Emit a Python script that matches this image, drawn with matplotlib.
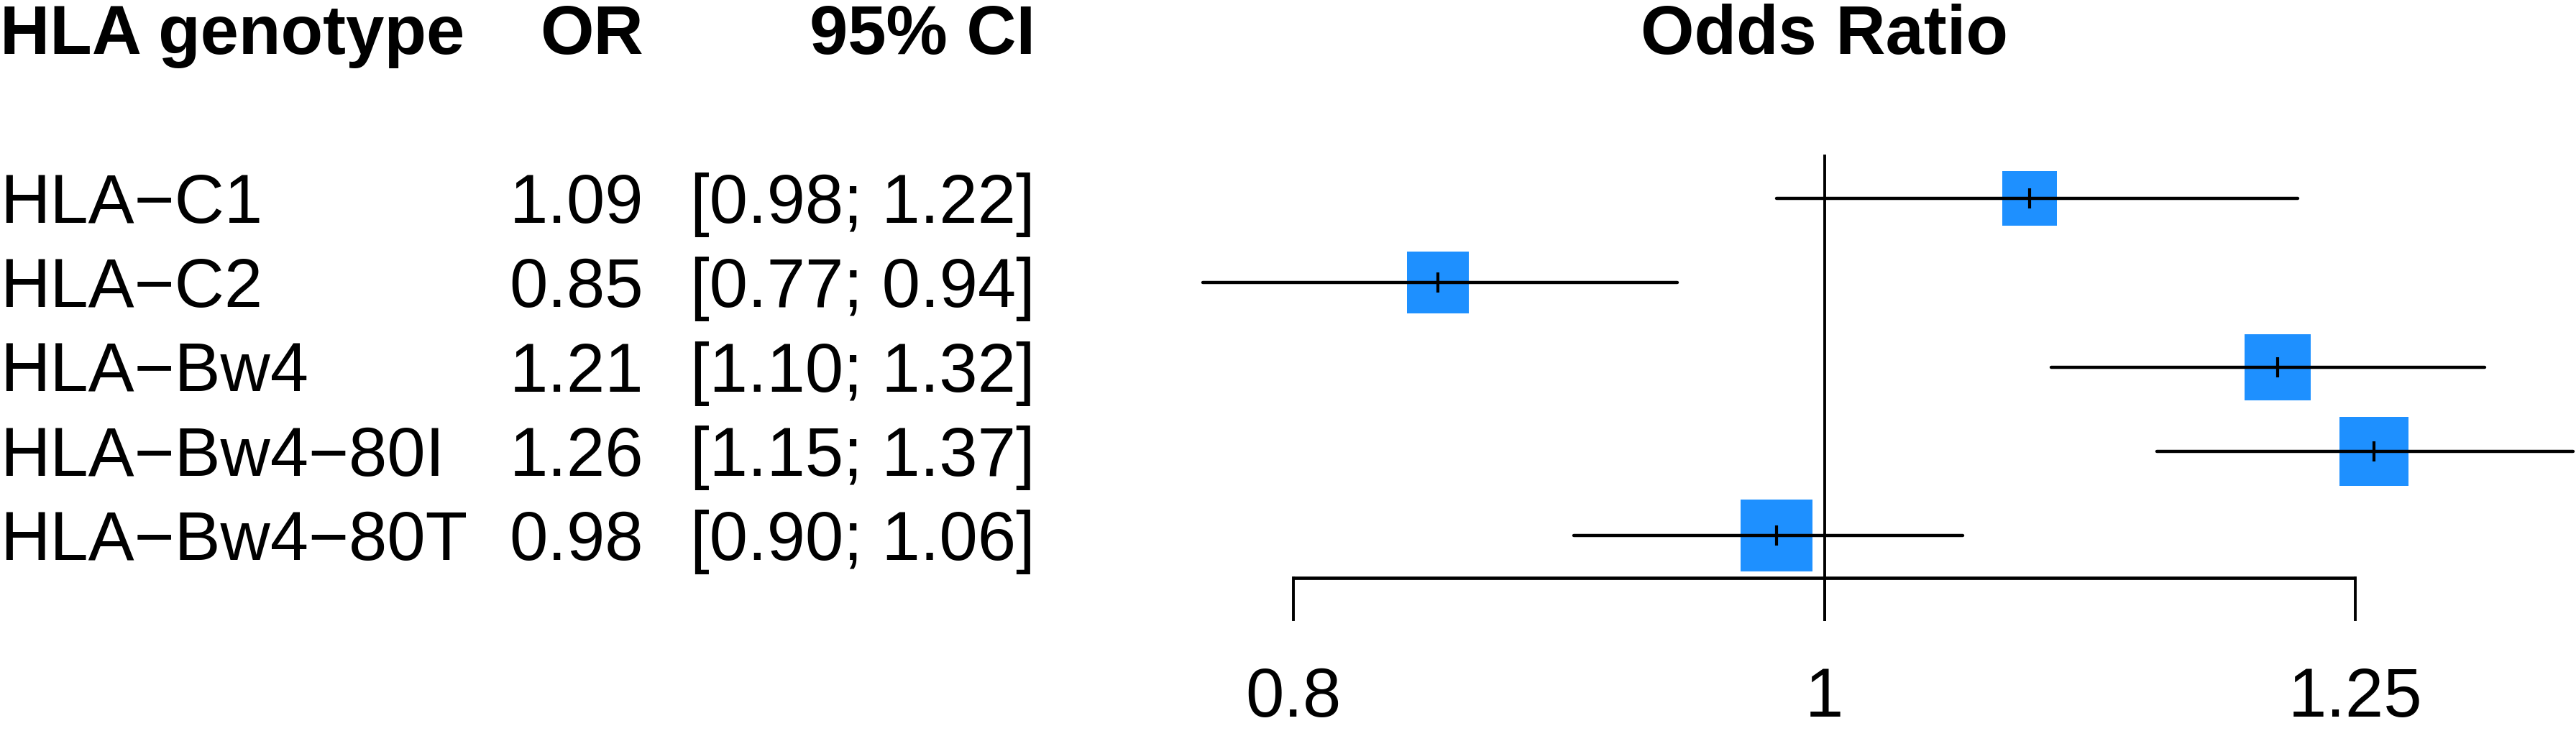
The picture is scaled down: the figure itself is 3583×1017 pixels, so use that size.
import numpy as np
import matplotlib.pyplot as plt

# forest plot of HLA genotypes (odds ratio, log scale)
genotype = ['HLA−C1', 'HLA−C2', 'HLA−Bw4', 'HLA−Bw4−80I', 'HLA−Bw4−80T']
odds = np.array([1.09, 0.85, 1.21, 1.26, 0.98])
ci_lo = np.array([0.98, 0.77, 1.10, 1.15, 0.90])
ci_hi = np.array([1.22, 0.94, 1.32, 1.37, 1.06])
weight = np.array([14.1, 18.1, 20.7, 22.6, 24.5])   # study weights (%)
ticks = [0.8, 1, 1.25]
ref = 1

plt.rcParams['font.family'] = ['Liberation Sans', 'DejaVu Sans']

W, H = 3583, 1017
fig = plt.figure(figsize=(W/100, H/100), dpi=100)

#rows are one unit apart, first study row at 0
r0 = 276
step = 117.3
ylim = ((H - r0)/step, -r0/step)
fs = 69
cap = 0.29   # half cap height in row units

#left side: the text table
tab = fig.add_axes([0, 0, 1, 1])
tab.set_xlim(0, W)
tab.set_ylim(*ylim)
tab.axis('off')

x_name, x_or, x_ci = 0, 895, 1440
tab.text(x_name, -2 + cap, 'HLA genotype', fontsize=fs, fontweight='bold', ha='left', va='baseline')
tab.text(x_or, -2 + cap, 'OR', fontsize=fs, fontweight='bold', ha='right', va='baseline')
tab.text(x_ci, -2 + cap, '95% CI', fontsize=fs, fontweight='bold', ha='right', va='baseline')
for i in range(len(genotype)):
    tab.text(x_name, i + cap, genotype[i], fontsize=fs, ha='left', va='baseline')
    tab.text(x_or, i + cap, '%.2f' % odds[i], fontsize=fs, ha='right', va='baseline')
    tab.text(x_ci, i + cap, '[%.2f; %.2f]' % (ci_lo[i], ci_hi[i]), fontsize=fs, ha='right', va='baseline')

#right side: the forest
x0 = 1600
scale = 3309.5   # px per log unit
c1 = 2537.5      # px of OR = 1
ax = fig.add_axes([x0/W, 0, 1 - x0/W, 1])
ax.set_xscale('log')
ax.set_xlim(np.exp((x0 - c1)/scale), np.exp((W - c1)/scale))
ax.set_ylim(*ylim)
ax.axis('off')
ax.patch.set_visible(False)

n = len(genotype)
y = np.arange(n)

# squares sized by weight (area ~ weight)
side = 100*0.72*np.sqrt(weight/weight.max())
ax.scatter(odds, y, s=side**2, marker='s', color='#1E90FF', linewidths=0, zorder=2, clip_on=False)
ax.hlines(y, ci_lo, ci_hi, color='black', lw=3.2, capstyle='round', zorder=3, clip_on=False)
ax.plot(odds, y, ls='none', marker='|', ms=20, mew=3, color='black', zorder=4, clip_on=False)

# reference line and axis
ax.plot([ref, ref], [-0.5, n], color='black', lw=2.8, zorder=1)
ax.plot([ticks[0], ticks[-1]], [n - 0.5, n - 0.5], color='black', lw=3.4, solid_capstyle='butt')
for t in ticks:
    ax.plot([t, t], [n - 0.5, n], color='black', lw=2.8)
    ax.text(t, n + 1 + 0.15, str(t), fontsize=fs, ha='center', va='baseline')

ax.text(ref, -2 + cap, 'Odds Ratio', fontsize=fs, fontweight='bold', ha='center', va='baseline')

fig.savefig('out.png', dpi=100)
